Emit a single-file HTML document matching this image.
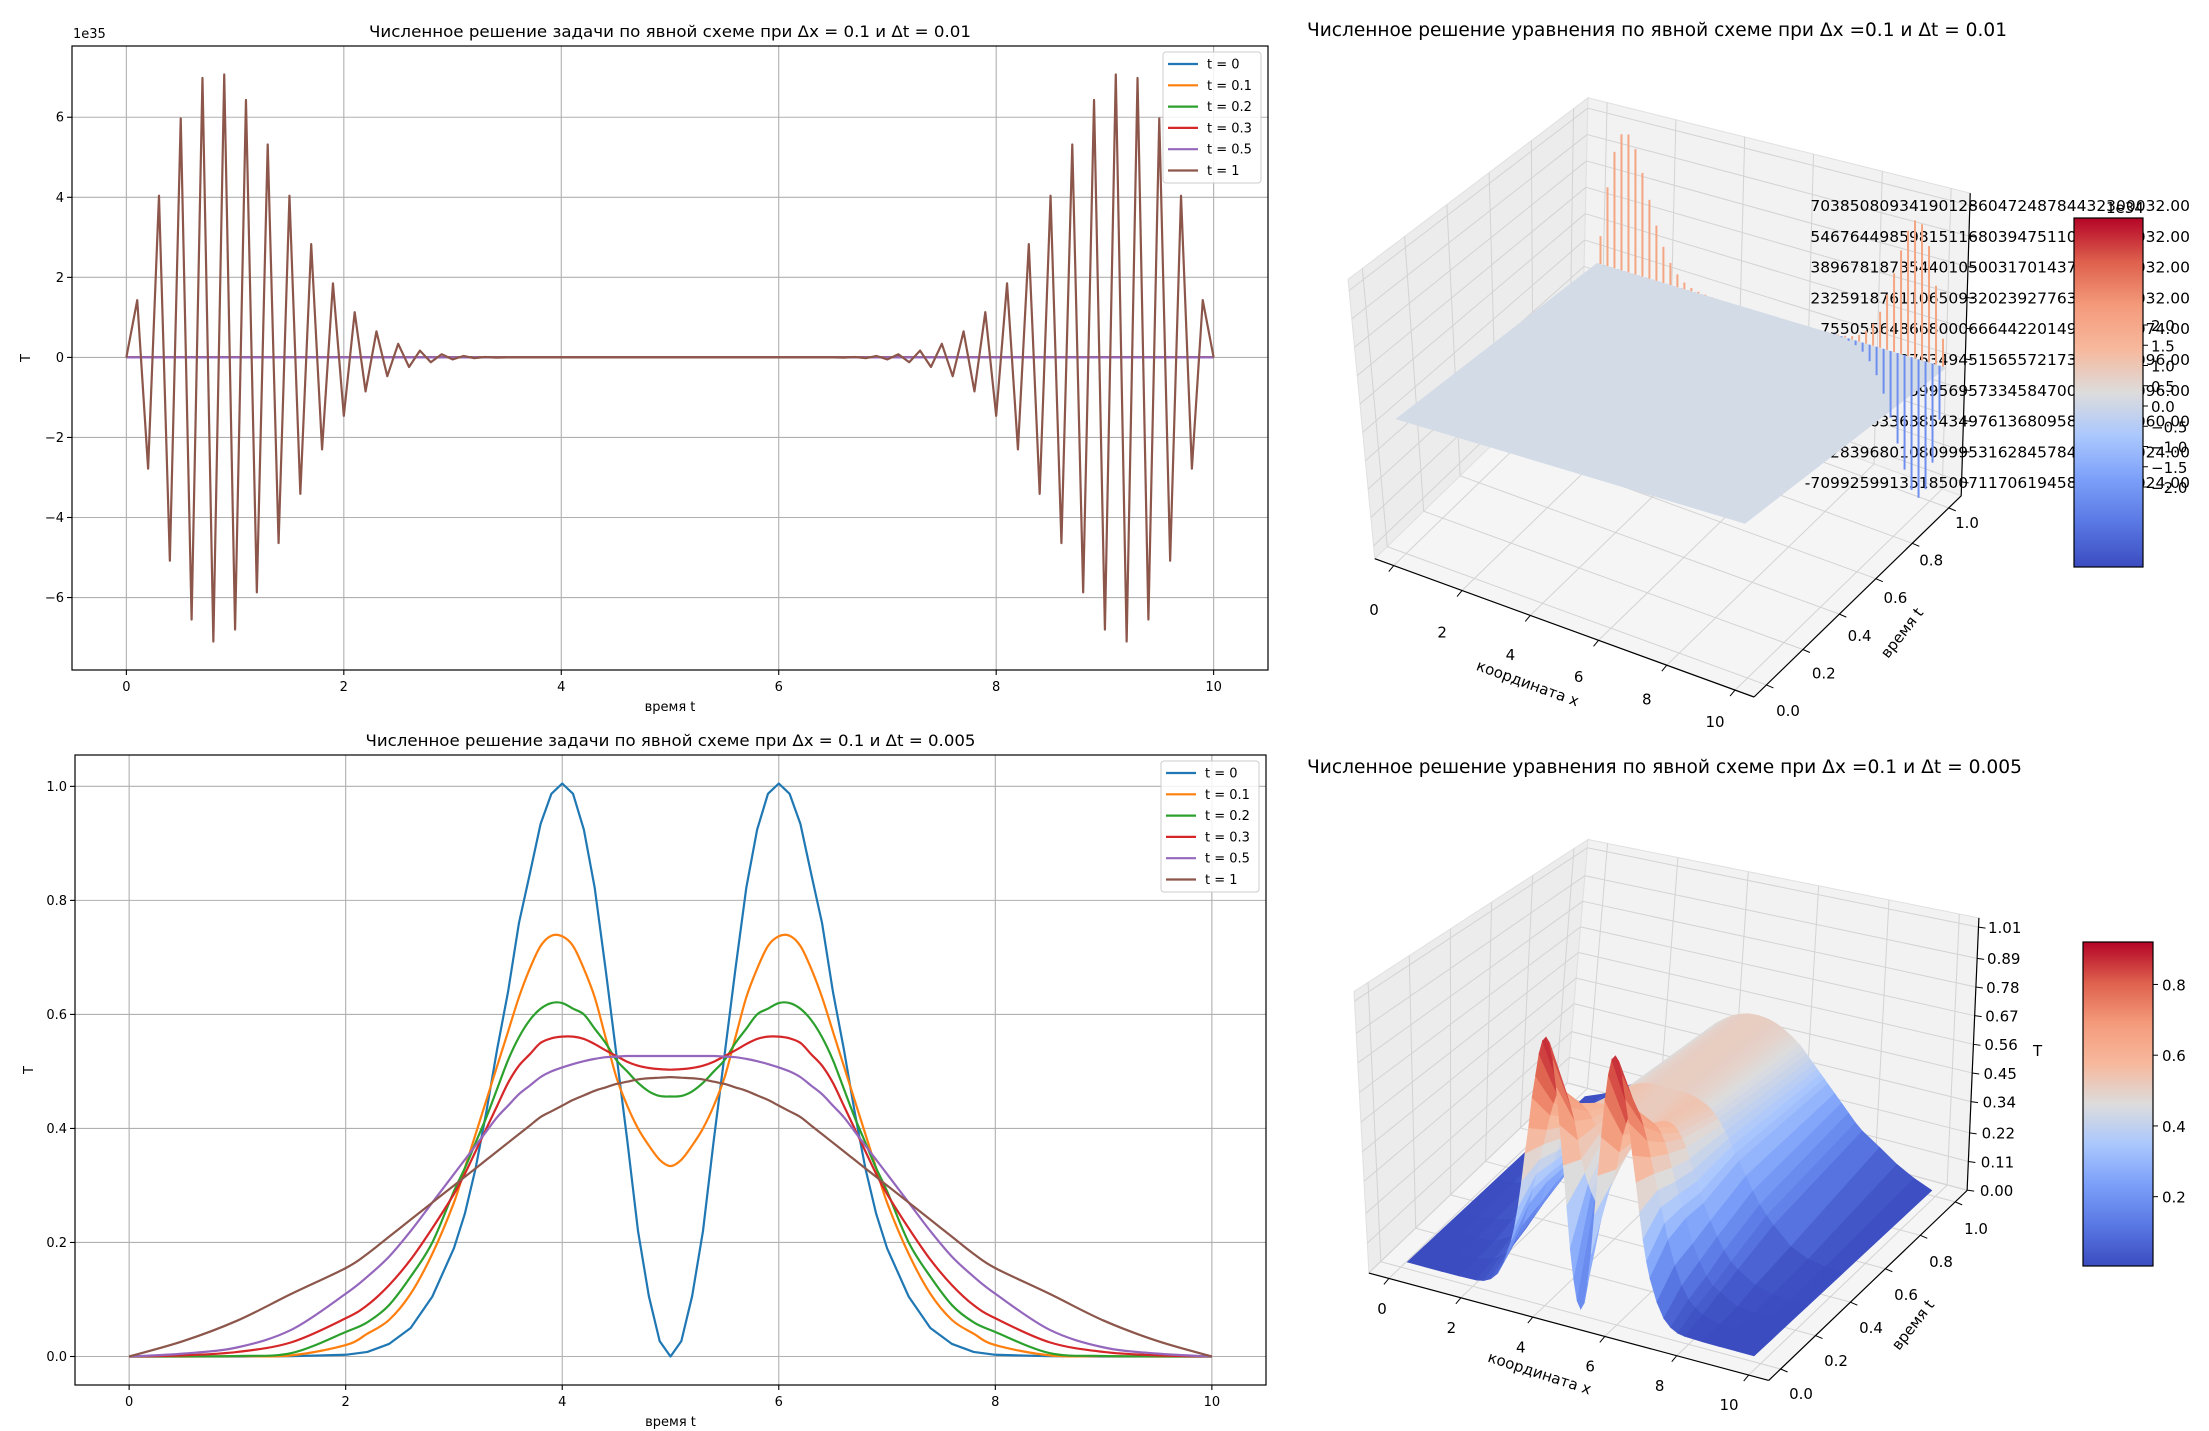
<!DOCTYPE html>
<html><head><meta charset="utf-8">
<style>
html,body{margin:0;padding:0;background:#fff;}
svg{display:block;font-family:"DejaVu Sans","Liberation Sans","Noto Sans CJK SC",sans-serif;}
</style></head>
<body>
<svg id="fig" width="2209" height="1431" viewBox="0 0 2209 1431" xmlns="http://www.w3.org/2000/svg">
<rect x="0" y="0" width="2209" height="1431" fill="#ffffff"/>
</svg>
<script>
// ===== data: top-left (dx=0.1, dt=0.01), t = 1 row, units of 1e35 =====
const topT1 = [0,1.43,-2.78,4.04,-5.08,5.97,-6.55,6.98,-7.1,7.07,-6.8,6.43,-5.87,5.32,-4.64,4.04,-3.41,2.83,-2.3,1.85,-1.46,1.13,-0.85,0.65,-0.47,0.34,-0.24,0.17,-0.12,0.08,-0.05,0.035,-0.02,0.01,-0.005,0,
0,0,0,0,0,0,0,0,0,0,0,0,0,0,0,0,0,0,0,0,0,0,0,0,0,0,0,0,0,
0,-0.005,0.01,-0.02,0.035,-0.05,0.08,-0.12,0.17,-0.24,0.34,-0.47,0.65,-0.85,1.13,-1.46,1.85,-2.3,2.83,-3.41,4.04,-4.64,5.32,-5.87,6.43,-6.8,7.07,-7.1,6.98,-6.55,5.97,-5.08,4.04,-2.78,1.43,0];
// ===== data: bottom-left (dx=0.1, dt=0.005) =====
const xsB = [0,0.5,1,1.5,2,2.2,2.4,2.6,2.8,3,3.1,3.2,3.3,3.4,3.5,3.6,3.7,3.8,3.9,4,4.1,4.2,4.3,4.4,4.5,4.6,4.7,4.8,4.9,5,
5.1,5.2,5.3,5.4,5.5,5.6,5.7,5.8,5.9,6,6.1,6.2,6.3,6.4,6.5,6.6,6.7,6.8,6.9,7,7.2,7.4,7.6,7.8,8,8.5,9,9.5,10];
const yT0 = [0,0,0,0.0005,0.003,0.008,0.022,0.05,0.105,0.19,0.25,0.33,0.43,0.54,0.64,0.76,0.846,0.934,0.987,1.005,0.987,0.924,0.822,0.68,0.53,0.38,0.22,0.106,0.027,0,
0.027,0.106,0.22,0.38,0.53,0.68,0.822,0.924,0.987,1.005,0.987,0.934,0.846,0.76,0.64,0.54,0.43,0.33,0.25,0.19,0.105,0.05,0.022,0.008,0.003,0.0005,0,0,0];
const yT01 = [0,0,0.0005,0.002,0.02,0.04,0.064,0.11,0.18,0.27,0.33,0.39,0.45,0.51,0.57,0.63,0.68,0.72,0.738,0.737,0.72,0.68,0.63,0.56,0.49,0.44,0.40,0.37,0.345,0.334,
0.345,0.37,0.40,0.44,0.49,0.56,0.63,0.68,0.72,0.737,0.738,0.72,0.68,0.63,0.57,0.51,0.45,0.39,0.33,0.27,0.18,0.11,0.064,0.04,0.02,0.002,0.0005,0,0];
const yT02 = [0,0.0003,0.001,0.006,0.043,0.06,0.09,0.14,0.2,0.29,0.33,0.375,0.42,0.47,0.52,0.56,0.59,0.61,0.62,0.62,0.61,0.6,0.575,0.55,0.52,0.50,0.48,0.465,0.457,0.456,
0.457,0.465,0.48,0.50,0.52,0.55,0.575,0.6,0.61,0.62,0.62,0.61,0.59,0.56,0.52,0.47,0.42,0.375,0.33,0.29,0.2,0.14,0.09,0.06,0.043,0.006,0.001,0.0003,0];
const yT03 = [0,0.002,0.008,0.025,0.067,0.09,0.125,0.17,0.225,0.285,0.32,0.36,0.40,0.44,0.48,0.51,0.53,0.55,0.558,0.561,0.561,0.557,0.548,0.537,0.527,0.517,0.51,0.506,0.504,0.503,
0.504,0.506,0.51,0.517,0.527,0.537,0.548,0.557,0.561,0.561,0.558,0.55,0.53,0.51,0.48,0.44,0.40,0.36,0.32,0.285,0.225,0.17,0.125,0.09,0.067,0.025,0.008,0.002,0];
const yT05 = [0,0.005,0.016,0.047,0.11,0.14,0.175,0.22,0.27,0.32,0.345,0.37,0.395,0.42,0.44,0.46,0.475,0.49,0.50,0.507,0.513,0.518,0.522,0.525,0.526,0.527,0.527,0.527,0.527,0.527,
0.527,0.527,0.527,0.527,0.526,0.525,0.522,0.518,0.513,0.507,0.50,0.49,0.475,0.46,0.44,0.42,0.395,0.37,0.345,0.32,0.27,0.22,0.175,0.14,0.11,0.047,0.016,0.005,0];
const yT1 = [0,0.027,0.063,0.11,0.155,0.18,0.21,0.24,0.27,0.30,0.315,0.33,0.345,0.36,0.375,0.39,0.405,0.42,0.43,0.44,0.45,0.458,0.466,0.472,0.478,0.482,0.486,0.488,0.489,0.49,
0.489,0.488,0.486,0.482,0.478,0.472,0.466,0.458,0.45,0.44,0.43,0.42,0.405,0.39,0.375,0.36,0.345,0.33,0.315,0.30,0.27,0.24,0.21,0.18,0.155,0.11,0.063,0.027,0];
const tRows = [0,0.1,0.2,0.3,0.5,1];
const seriesLabels = ['t = 0','t = 0.1','t = 0.2','t = 0.3','t = 0.5','t = 1'];
const xTickVals = [0,2,4,6,8,10];
const yTicksTop = [-6,-4,-2,0,2,4,6];
const yTicksBot = [0,0.2,0.4,0.6,0.8,1.0];
const zTicks4 = [0,0.11,0.22,0.34,0.45,0.56,0.67,0.78,0.89,1.01];
const tTicks3d = [0,0.2,0.4,0.6,0.8,1.0];
const cbTicks2 = [2.0,1.5,1.0,0.5,0.0,-0.5,-1.0,-1.5,-2.0];
const cbTicks4 = [0.2,0.4,0.6,0.8];
const zLabels2 = ['703850809341901286047248784432300032.00','546764498598151168039475110400000032.00','389678187354401050031701437200000032.00','232591876110650932023927763000000032.00','75505564866800066644220149999000074.00','-81580898376349451565572173800000096.00','-238667762059956957334584700000000096.00','-395753633638543497613680958160000060.00','-552839680108099953162845784000000024.00','-709925991351850071170619458300000024.00'];

const NS='http://www.w3.org/2000/svg';
const svg=document.getElementById('fig');
const COLORS=['#1f77b4','#ff7f0e','#2ca02c','#d62728','#9467bd','#8c564b'];
function mk(tag,attrs,parent,name,inter){
  const el=document.createElementNS(NS,tag);
  for(const k in attrs) el.setAttribute(k,attrs[k]);
  
  
  (parent||svg).appendChild(el);
  return el;
}
function txt(s,attrs,parent,name){const e=mk('text',attrs,parent,name,false);e.textContent=s;return e;}
function fmtTick(v,d){const s=Math.abs(v).toFixed(d);return (v<0?'\u2212':'')+s;}

const CW=[[0,59,76,192],[0.125,89,119,227],[0.25,123,159,249],[0.375,170,199,253],[0.5,221,220,220],[0.625,247,184,156],[0.75,244,154,123],[0.875,222,96,77],[1,180,4,38]];
function coolwarm(f){f=Math.max(0,Math.min(1,f));for(let i=1;i<CW.length;i++){if(f<=CW[i][0]){const a=CW[i-1],b=CW[i],k=(f-a[0])/(b[0]-a[0]);return 'rgb('+[1,2,3].map(j=>Math.round(a[j]+(b[j]-a[j])*k)).join(',')+')';}}return 'rgb(180,4,38)';}

function smoothPath(pts){
  let d='M'+pts[0][0].toFixed(2)+','+pts[0][1].toFixed(2);
  for(let i=0;i<pts.length-1;i++){
    const p0=pts[Math.max(0,i-1)],p1=pts[i],p2=pts[i+1],p3=pts[Math.min(pts.length-1,i+2)];
    const c1=[p1[0]+(p2[0]-p0[0])/6,p1[1]+(p2[1]-p0[1])/6],c2=[p2[0]-(p3[0]-p1[0])/6,p2[1]-(p3[1]-p1[1])/6];
    d+='C'+c1[0].toFixed(2)+','+c1[1].toFixed(2)+' '+c2[0].toFixed(2)+','+c2[1].toFixed(2)+' '+p2[0].toFixed(2)+','+p2[1].toFixed(2);
  }
  return d;
}

function draw2D(o){
  const g=mk('g',{},svg,o.name,false);
  const sx=v=>o.L+(v-o.xmin)/(o.xmax-o.xmin)*(o.R-o.L);
  const sy=v=>o.B-(v-o.ymin)/(o.ymax-o.ymin)*(o.B-o.T);
  const clip=mk('clipPath',{id:o.name+'-clip'},g,'clip-region',false);
  mk('rect',{x:o.L,y:o.T,width:o.R-o.L,height:o.B-o.T},clip,'clip-rect',false);
  xTickVals.forEach(v=>{mk('line',{x1:sx(v),x2:sx(v),y1:o.T,y2:o.B,stroke:'#b0b0b0','stroke-width':1.1},g,'x-gridline',false);
    mk('line',{x1:sx(v),x2:sx(v),y1:o.B,y2:o.B+5,stroke:'#000','stroke-width':1.1},g,'x-tick',false);
    txt(String(v),{x:sx(v),y:o.B+21,'font-size':13,'text-anchor':'middle',fill:'#000'},g,'x-tick-label');});
  o.yticks.forEach(v=>{mk('line',{x1:o.L,x2:o.R,y1:sy(v),y2:sy(v),stroke:'#b0b0b0','stroke-width':1.1},g,'y-gridline',false);
    mk('line',{x1:o.L-5,x2:o.L,y1:sy(v),y2:sy(v),stroke:'#000','stroke-width':1.1},g,'y-tick',false);
    txt(fmtTick(v,o.yd),{x:o.L-8,y:sy(v)+4.5,'font-size':13,'text-anchor':'end',fill:'#000'},g,'y-tick-label');});
  const lg=mk('g',{'clip-path':'url(#'+o.name+'-clip)'},g,'series-group',false);
  o.series.forEach((s,i)=>{
    const pts=s.ys.map((y,j)=>[sx(s.xs[j]),sy(y)]);
    const d=s.smooth?smoothPath(pts):pts.map((p,j)=>(j?'L':'M')+p[0].toFixed(2)+','+p[1].toFixed(2)).join('');
    mk('path',{d:d,fill:'none',stroke:COLORS[i],'stroke-width':2.2,'stroke-linejoin':'round'},lg,'series-line-'+seriesLabels[i].replace(/[ =.]+/g,'-'),false);
  });
  mk('rect',{x:o.L,y:o.T,width:o.R-o.L,height:o.B-o.T,fill:'none',stroke:'#000','stroke-width':1.2},g,'axes-frame',false);
  txt(o.title,{x:(o.L+o.R)/2,y:o.T-9,'font-size':16,'text-anchor':'middle',fill:'#000',textLength:o.titleLen,lengthAdjust:'spacingAndGlyphs'},g,'chart-title');
  txt('время t',{x:(o.L+o.R)/2,y:o.B+41,'font-size':13,'text-anchor':'middle',fill:'#000'},g,'x-axis-title');
  txt('T',{x:0,y:0,'font-size':13,'text-anchor':'middle',fill:'#000',transform:'translate('+(o.L-42)+','+((o.T+o.B)/2)+') rotate(-90)'},g,'y-axis-title');
  if(o.exp) txt(o.exp,{x:o.L+1,y:o.T-8,'font-size':13,fill:'#000'},g,'y-axis-offset-label');
  const lx=o.R-105,ly=o.T+6;
  const leg=mk('g',{},g,'legend',false);
  mk('rect',{x:lx,y:ly,width:98,height:131,rx:3,fill:'#fff','fill-opacity':0.85,stroke:'#cccccc','stroke-width':1},leg,'legend-box',false);
  seriesLabels.forEach((l,i)=>{const yy=ly+12+i*21.3;
    const e=mk('g',{},leg,'legend-entry',true);
    mk('line',{x1:lx+5,x2:lx+35,y1:yy,y2:yy,stroke:COLORS[i],'stroke-width':2.2},e,'legend-swatch',false);
    txt(l,{x:lx+44,y:yy+4.5,'font-size':13,fill:'#000'},e,'legend-label');});
}
const xsA=[];for(let i=0;i<=100;i++)xsA.push(i/10);
draw2D({name:'chart-explicit-dt-001',L:72,R:1268,T:46,B:670,xmin:-0.5,xmax:10.5,ymin:-7.81,ymax:7.78,yticks:yTicksTop,yd:0,exp:'1e35',
  title:'Численное решение задачи по явной схеме при Δx = 0.1 и Δt = 0.01',titleLen:602,
  series:[{xs:xsB,ys:yT0.map(v=>v*1e-35)},{xs:xsB,ys:yT01.map(v=>v*1e-35)},{xs:xsB,ys:yT02.map(v=>v*1e-35)},{xs:xsB,ys:yT03.map(v=>v*1e-35)},{xs:xsB,ys:yT05.map(v=>v*1e-35)},{xs:xsA,ys:topT1}]});
draw2D({name:'chart-explicit-dt-0005',L:75,R:1266,T:755,B:1385,xmin:-0.5,xmax:10.5,ymin:-0.050,ymax:1.055,yticks:yTicksBot,yd:1,
  title:'Численное решение задачи по явной схеме при Δx = 0.1 и Δt = 0.005',titleLen:610,
  series:[{xs:xsB,ys:yT0},{xs:xsB,ys:yT01,smooth:true},{xs:xsB,ys:yT02,smooth:true},{xs:xsB,ys:yT03,smooth:true},{xs:xsB,ys:yT05,smooth:true},{xs:xsB,ys:yT1,smooth:true}]});

function add(a,b){return [a[0]+b[0],a[1]+b[1]];}
function sub(a,b){return [a[0]-b[0],a[1]-b[1]];}
function mul(a,k){return [a[0]*k,a[1]*k];}
function box3D(name,b,zW){
  const g=mk('g',{},svg,name,false);
  const upL=sub(b.TL,b.FL),upB=sub(b.TB,b.FB),upR=sub(b.TR,b.FR),upF=sub(add(upL,upR),upB);
  const P=(u,v,w)=>{const base=add(add(b.FL,mul(sub(b.FF,b.FL),u)),mul(sub(b.FB,b.FL),v));
    const up=add(add(mul(upL,(1-u)*(1-v)),mul(upF,u*(1-v))),add(mul(upB,(1-u)*v),mul(upR,u*v)));return add(base,mul(up,w));};
  const poly=(pts,fill,nm)=>mk('polygon',{points:pts.map(p=>p[0].toFixed(1)+','+p[1].toFixed(1)).join(' '),fill:fill,stroke:'#e0e0e0','stroke-width':1},g,nm,false);
  poly([P(0,0,0),P(0,0,1),P(0,1,1),P(0,1,0)],'#ececec','left-pane');
  poly([P(0,1,0),P(0,1,1),P(1,1,1),P(1,1,0)],'#f2f2f2','back-pane');
  poly([P(0,0,0),P(0,1,0),P(1,1,0),P(1,0,0)],'#f5f5f5','floor-pane');
  const ln=(a,c,col,w,nm)=>mk('line',{x1:a[0],y1:a[1],x2:c[0],y2:c[1],stroke:col,'stroke-width':w},g,nm,false);
  const uOf=a=>0.05+0.09*a, vOf=t=>0.06+0.88*t;
  xTickVals.forEach(a=>{const u=uOf(a);ln(P(u,0,0),P(u,1,0),'#d3d3d3',1,'floor-grid-x');ln(P(u,1,0),P(u,1,1),'#d3d3d3',1,'back-grid-x');
    ln(P(u,0,0),add(P(u,0,0),[-5,6]),'#000',1,'x-tick');});
  tTicks3d.forEach(t=>{const v=vOf(t);ln(P(0,v,0),P(1,v,0),'#d3d3d3',1,'floor-grid-t');ln(P(0,v,0),P(0,v,1),'#d3d3d3',1,'left-grid-t');
    ln(P(1,v,0),add(P(1,v,0),[7,3]),'#000',1,'t-tick');});
  zW.forEach(w=>{ln(P(0,0,w),P(0,1,w),'#d3d3d3',1,'left-grid-z');ln(P(0,1,w),P(1,1,w),'#d3d3d3',1,'back-grid-z');
    ln(P(1,1,w),add(P(1,1,w),[7,1]),'#000',1,'z-tick');});
  ln(P(0,0,0),P(1,0,0),'#000',1.2,'x-axis-line');ln(P(1,0,0),P(1,1,0),'#000',1.2,'t-axis-line');ln(P(1,1,0),P(1,1,1),'#000',1.2,'z-axis-line');
  return g;
}
function colorbar(name,x,y,w,h){
  const g=mk('g',{},svg,name,false);
  const gr=mk('linearGradient',{id:name+'-grad',x1:0,y1:1,x2:0,y2:0},g,'colorbar-gradient',false);
  for(let i=0;i<=16;i++){mk('stop',{offset:(i/16),'stop-color':coolwarm(i/16)},gr,'gradient-stop',false);}
  mk('rect',{x:x,y:y,width:w,height:h,fill:'url(#'+name+'-grad)',stroke:'#000','stroke-width':1.2},g,'colorbar-rect',false);
  return g;
}

// ===== 3D plot: dt = 0.01 =====
(function(){
  const b={FL:[1374.8,558.7],FF:[1754,697],FR:[1961,495.8],FB:[1582,357.5],TL:[1348,279.3],TB:[1588,97.8],TR:[1970,193.2]};
  const zW=[];for(let i=0;i<10;i++)zW.push(0.046+i*(0.914/9));
  box3D('surface-box-dt-001',b,zW);
  const g=mk('g',{},svg,'surface-plot-dt-001',false);
  txt('Численное решение уравнения по явной схеме при Δx =0.1 и Δt = 0.01',{x:1307,y:36,'font-size':19,fill:'#000',textLength:700,lengthAdjust:'spacingAndGlyphs'},g,'surface-title');
  zLabels2.forEach((s,i)=>{txt(s,{x:2190,y:205+i*30.8+6,'font-size':15.5,'text-anchor':'end',fill:'#000'},g,'z-tick-label');});
  const c00=[1395.5,419],c10=[1745,523.7],c01=[1597,263],zs=19.5;
  const P=(x,t,z)=>[c00[0]+x/10*(c10[0]-c00[0])+t*(c01[0]-c00[0]),c00[1]+x/10*(c10[1]-c00[1])+t*(c01[1]-c00[1])-z*zs];
  const spike=(i)=>{const v=topT1[i];const a=P(xsA[i],1,0),c=P(xsA[i],1,v);
    mk('line',{x1:a[0],y1:a[1],x2:c[0],y2:c[1],stroke:v>0?'#f4a582':'#6f8ff0','stroke-width':2},g,'surface-spike',false);};
  for(let i=0;i<xsA.length;i++){if(topT1[i]<0&&xsA[i]<5)spike(i);}
  const pl=[P(0,0,0),P(10,0,0),P(10,1,0),P(0,1,0)];
  mk('polygon',{points:pl.map(p=>p.join(',')).join(' '),fill:'#d3dbe7'},g,'surface-plane',false);
  for(let i=0;i<xsA.length;i++){if(topT1[i]!==0&&!(topT1[i]<0&&xsA[i]<5))spike(i);}
  xTickVals.forEach(a=>txt(String(a),{x:1374+a*34.1,y:609+a*11.2+6,'font-size':15,'text-anchor':'middle',fill:'#000'},g,'x-tick-label'));
  tTicks3d.forEach(t=>txt(t.toFixed(1),{x:1788+t*179,y:710-t*188+6,'font-size':15,'text-anchor':'middle',fill:'#000'},g,'t-tick-label'));
  txt('координата x',{x:0,y:0,'font-size':15,'text-anchor':'middle',fill:'#000',transform:'translate(1526,688) rotate(20)'},g,'x-axis-title');
  txt('время t',{x:0,y:0,'font-size':15,'text-anchor':'middle',fill:'#000',transform:'translate(1906,636) rotate(-52)'},g,'t-axis-title');
  const cb=colorbar('colorbar-dt-001',2074,218,69,349);
  cbTicks2.forEach(v=>{const yy=406-v*40.5;
    mk('line',{x1:2143,x2:2148,y1:yy,y2:yy,stroke:'#000','stroke-width':1},cb,'colorbar-tick',false);
    txt(fmtTick(v,1),{x:2151,y:yy+6,'font-size':15,fill:'#000'},cb,'colorbar-tick-label');});
  txt('1e34',{x:2106,y:213,'font-size':15,fill:'#000'},cb,'colorbar-offset-label');
})();

// ===== 3D plot: dt = 0.005 =====
(function(){
  const b={FL:[1368.9,1273.1],FF:[1768.7,1380.4],FR:[1967.2,1190.4],FB:[1567.3,1083.2],TL:[1354,991.5],TB:[1588,839.5],TR:[1979,917.8]};
  const zW=zTicks4.map(z=>0.0015+z/1.01*0.9645);
  box3D('surface-box-dt-0005',b,zW);
  const g=mk('g',{},svg,'surface-plot-dt-0005',false);
  txt('Численное решение уравнения по явной схеме при Δx =0.1 и Δt = 0.005',{x:1307,y:773,'font-size':19,fill:'#000',textLength:715,lengthAdjust:'spacingAndGlyphs'},g,'surface-title');
  const c00=[1407.4,1262],c10=[1754,1355.8],c01=[1585.1,1096.6],zs=261;
  const P=(x,t,z)=>[c00[0]+x/10*(c10[0]-c00[0])+t*(c01[0]-c00[0]),c00[1]+x/10*(c10[1]-c00[1])+t*(c01[1]-c00[1])-z*zs];
  const rows=[yT0,yT01,yT02,yT03,yT05,yT1];
  const quads=[];
  for(let r=0;r<rows.length-1;r++)for(let j=0;j<xsB.length-1;j++){
    const z=[rows[r][j],rows[r][j+1],rows[r+1][j+1],rows[r+1][j]];
    const key=(xsB[j]+xsB[j+1])/20-(tRows[r]+tRows[r+1])/2;
    quads.push({r,j,z,key});}
  quads.sort((a,b)=>a.key-b.key);
  const sg=mk('g',{},g,'surface-mesh',false);
  quads.forEach(q=>{const r=q.r,j=q.j;
    const pts=[P(xsB[j],tRows[r],q.z[0]),P(xsB[j+1],tRows[r],q.z[1]),P(xsB[j+1],tRows[r+1],q.z[2]),P(xsB[j],tRows[r+1],q.z[3])];
    const col=coolwarm(((q.z[0]+q.z[1]+q.z[2]+q.z[3])/4)/0.92);
    mk('polygon',{points:pts.map(p=>p[0].toFixed(1)+','+p[1].toFixed(1)).join(' '),fill:col,stroke:col,'stroke-width':0.8},sg,'surface-face',false);});
  xTickVals.forEach(a=>txt(String(a),{x:1382+a*34.7,y:1308+a*9.6+6,'font-size':15,'text-anchor':'middle',fill:'#000'},g,'x-tick-label'));
  tTicks3d.forEach(t=>txt(t.toFixed(1),{x:1801+t*175,y:1393-t*165+6,'font-size':15,'text-anchor':'middle',fill:'#000'},g,'t-tick-label'));
  zTicks4.forEach(z=>txt(z.toFixed(2),{x:1988+(1.01-z)*(-8),y:1190-z/1.01*263+6,'font-size':15,fill:'#000'},g,'z-tick-label'));
  txt('T',{x:2033,y:1056,'font-size':15,fill:'#000'},g,'z-axis-title');
  txt('координата x',{x:0,y:0,'font-size':15,'text-anchor':'middle',fill:'#000',transform:'translate(1538,1378) rotate(18)'},g,'x-axis-title');
  txt('время t',{x:0,y:0,'font-size':15,'text-anchor':'middle',fill:'#000',transform:'translate(1917,1328) rotate(-52)'},g,'t-axis-title');
  const cb=colorbar('colorbar-dt-0005',2083,942,70,324);
  cbTicks4.forEach(v=>{const yy=1266-(v-0.004)/(0.92-0.004)*324;
    mk('line',{x1:2153,x2:2158,y1:yy,y2:yy,stroke:'#000','stroke-width':1},cb,'colorbar-tick',false);
    txt(v.toFixed(1),{x:2162,y:yy+6,'font-size':15,fill:'#000'},cb,'colorbar-tick-label');});
})();
</script>
</body></html>
